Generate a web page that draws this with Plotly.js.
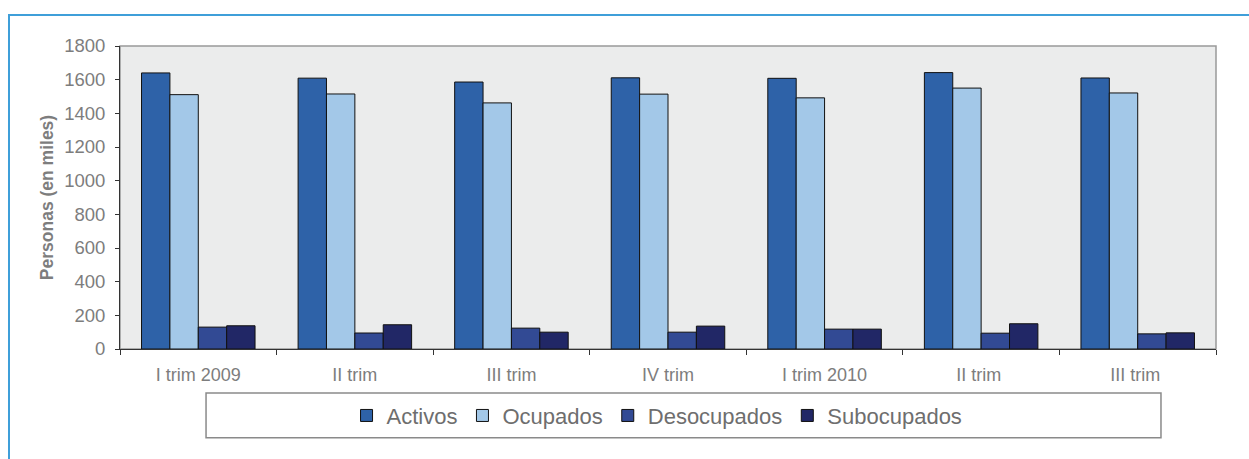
<!DOCTYPE html>
<html>
<head>
<meta charset="utf-8">
<script src="https://cdn.plot.ly/plotly-3.0.1.min.js"></script>
<style>
  html, body { margin: 0; padding: 0; background: #ffffff; }
  #wrap { position: relative; width: 1249px; height: 459px; overflow: hidden; }
  #chart { position: absolute; left: 0; top: 0; width: 1249px; height: 459px; }
  #frameTop { position: absolute; left: 8px; top: 14px; width: 1241px; height: 0; border-top: 2px solid #3f9fd9; }
  #frameLeft { position: absolute; left: 8px; top: 14px; width: 0; height: 445px; border-left: 2px solid #3f9fd9; }
</style>
</head>
<body>
<div id="wrap">
  <div id="chart"></div>
  <div id="frameTop"></div>
  <div id="frameLeft"></div>
</div>
<script>
const categories = ["I trim 2009", "II trim", "III trim", "IV trim", "I trim 2010", "II trim ", "III trim "];
const activos     = [1640, 1609, 1586, 1611, 1608, 1642, 1610];
const ocupados    = [1511, 1515, 1462, 1514, 1492, 1550, 1521];
const desocupados = [130, 95, 124, 100, 118, 94, 90];
const subocupados = [138, 144, 100, 136, 118, 150, 96];
const seriesNames = ["Activos", "Ocupados", "Desocupados", "Subocupados"];
const seriesColors = ["#2e62a8", "#a3c8e8", "#324a94", "#212766"];
const yTicks = [0, 200, 400, 600, 800, 1000, 1200, 1400, 1600, 1800];

const allValues = [activos, ocupados, desocupados, subocupados];
const traces = allValues.map((vals, i) => ({
  type: "bar",
  name: seriesNames[i],
  x: categories,
  y: vals,
  marker: { color: seriesColors[i], line: { color: "#111111", width: 1 } },
  hoverinfo: "x+y+name"
}));

const grayText = "#7d7d7d";
const layout = {
  width: 1249,
  height: 459,
  margin: { l: 120, r: 33, t: 46, b: 110 },
  paper_bgcolor: "rgba(0,0,0,0)",
  plot_bgcolor: "#ebecec",
  barmode: "group",
  bargap: 0.275,
  bargroupgap: 0,
  font: { family: "Liberation Sans, Arial, sans-serif", color: grayText },
  showlegend: true,
  legend: {
    orientation: "h",
    x: 0.49, xanchor: "center",
    y: -0.22, yanchor: "middle",
    bgcolor: "rgba(0,0,0,0)",
    borderwidth: 0,
    font: { size: 22, color: "#6e6e6e", family: "Liberation Sans, Arial, sans-serif" },
    itemclick: false,
    traceorder: "normal"
  },
  xaxis: {
    type: "category",
    showline: true,
    linecolor: "#333333",
    linewidth: 1,
    ticks: "outside",
    tickson: "boundaries",
    ticklen: 5,
    tickcolor: "#333333",
    ticklabelstandoff: 9,
    showgrid: false,
    zeroline: false,
    tickfont: { size: 18, color: grayText },
    fixedrange: true
  },
  yaxis: {
    range: [0, 1800],
    tickvals: yTicks,
    ticktext: yTicks.map(String),
    showline: true,
    linecolor: "#333333",
    linewidth: 1,
    ticks: "outside",
    ticklen: 4,
    tickcolor: "#333333",
    ticklabelstandoff: 6,
    showgrid: false,
    zeroline: false,
    tickfont: { size: 18.5, color: grayText },
    title: { text: "<b>Personas (en miles)</b>", font: { size: 17.5, color: grayText }, standoff: 6 },
    fixedrange: true
  },
  shapes: [
    { type: "rect", xref: "paper", yref: "paper", x0: 0, x1: 1, y0: 0, y1: 1,
      line: { color: "#999999", width: 1.5 }, layer: "below" },
    { type: "rect", xref: "paper", yref: "paper", x0: 0.0785, x1: 0.9498, y0: -0.145, y1: -0.293,
      line: { color: "#8a8a8a", width: 1.5 }, fillcolor: "rgba(0,0,0,0)", layer: "below" }
  ]
};

Plotly.newPlot("chart", traces, layout, { displayModeBar: false, staticPlot: true });
</script>
</body>
</html>
